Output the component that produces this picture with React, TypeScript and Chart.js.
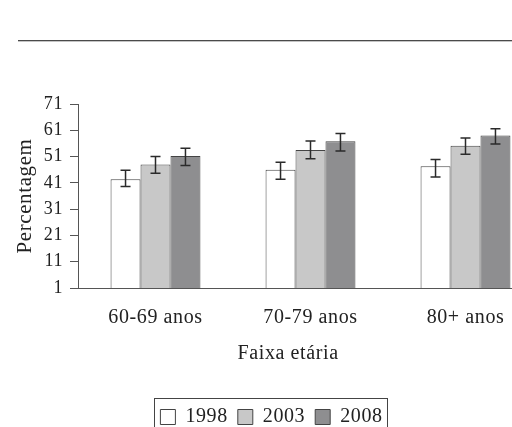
import React, { useEffect, useRef } from "react";
import { Chart, registerables } from "chart.js";

Chart.register(...registerables);

const categories = ["60-69 anos", "70-79 anos", "80+ anos"];
const seriesNames = ["1998", "2003", "2008"];
const values1998 = [42.4, 46.0, 47.3];
const values2003 = [48.0, 53.5, 55.1];
const values2008 = [51.2, 56.8, 59.0];
const low1998 = [39.6, 42.4, 43.2];
const high1998 = [45.8, 48.8, 49.9];
const low2003 = [44.7, 50.2, 51.9];
const high2003 = [51.0, 56.9, 58.1];
const low2008 = [47.6, 53.1, 55.8];
const high2008 = [54.2, 59.8, 61.6];
const yTicks = [1, 11, 21, 31, 41, 51, 61, 71];
const xTitle = "Faixa etária";
const yTitle = "Percentagem";

const FONT = "'Liberation Serif', 'Times New Roman', serif";
const fills = ["#ffffff", "#c8c8c8", "#8e8e90"];
const lows = [low1998, low2003, low2008];
const highs = [high1998, high2003, high2008];
const seriesValues = [values1998, values2003, values2008];

const spacingPlugin = {
  id: "spacing",
  beforeUpdate(chart: any) {
    chart.ctx.letterSpacing = "0.6px";
  },
  beforeDraw(chart: any) {
    chart.ctx.letterSpacing = "0.6px";
  },
};

const errorBarPlugin = {
  id: "errorBars",
  afterDatasetsDraw(chart: any) {
    const ctx = chart.ctx;
    const y = chart.scales.y;
    ctx.save();
    ctx.strokeStyle = "#2a2a2a";
    ctx.lineWidth = 1.5;
    chart.data.datasets.forEach((_: any, i: number) => {
      const meta = chart.getDatasetMeta(i);
      meta.data.forEach((bar: any, j: number) => {
        const x = bar.x;
        const yl = y.getPixelForValue(lows[i][j]);
        const yh = y.getPixelForValue(highs[i][j]);
        ctx.beginPath();
        ctx.moveTo(x, yl);
        ctx.lineTo(x, yh);
        ctx.moveTo(x - 5, yl);
        ctx.lineTo(x + 5, yl);
        ctx.moveTo(x - 5, yh);
        ctx.lineTo(x + 5, yh);
        ctx.stroke();
      });
    });
    ctx.restore();
  },
};

const legendBoxPlugin = {
  id: "legendBox",
  afterDraw(chart: any) {
    const lg = chart.legend;
    if (!lg || !lg.legendHitBoxes || !lg.legendHitBoxes.length) return;
    const hb = lg.legendHitBoxes;
    let l = Infinity, r = -Infinity, t = Infinity, b = -Infinity;
    hb.forEach((h: any) => {
      l = Math.min(l, h.left);
      r = Math.max(r, h.left + h.width);
      t = Math.min(t, h.top);
      b = Math.max(b, h.top + h.height);
    });
    const ctx = chart.ctx;
    ctx.save();
    ctx.strokeStyle = "#444";
    ctx.lineWidth = 1;
    ctx.strokeRect(Math.round(l - 6) + 0.5, Math.round(t - 9) + 0.5, Math.round(r - l + 11), Math.round(b - t + 30));
    ctx.restore();
  },
};

export default function App() {
  const ref = useRef<HTMLCanvasElement>(null);
  useEffect(() => {
    if (!ref.current) return;
    const chart = new Chart(ref.current, {
      type: "bar",
      data: {
        labels: categories,
        datasets: seriesNames.map((name, i) => ({
          label: name,
          data: seriesValues[i],
          backgroundColor: fills[i],
          borderColor: "#444",
          borderWidth: 1,
          categoryPercentage: 0.58,
          barPercentage: 1,
        })),
      },
      options: {
        responsive: false,
        animation: false,
        layout: { padding: { top: 104, right: 17, bottom: 3, left: 0 } },
        plugins: {
          tooltip: { enabled: false },
          legend: {
            position: "bottom",
            labels: {
              boxWidth: 15,
              boxHeight: 15,
              padding: 10,
              color: "#222",
              font: { family: FONT, size: 20 },
            },
          },
        },
        scales: {
          x: {
            grid: { display: false, drawTicks: false },
            border: { color: "#555", width: 1 },
            ticks: { color: "#222", font: { family: FONT, size: 20 }, padding: 18 },
            title: {
              display: true,
              text: xTitle + "        ",
              color: "#222",
              font: { family: FONT, size: 20 },
              padding: { top: -6, bottom: 31 },
            },
          },
          y: {
            min: 1,
            max: 71,
            afterBuildTicks: (s: any) => {
              s.ticks = yTicks.map((v) => ({ value: v }));
            },
            afterFit: (s: any) => {
              s.width = 78;
            },
            grid: { drawOnChartArea: false, tickLength: 8, color: "#555" },
            border: { color: "#555", width: 1 },
            ticks: { color: "#222", font: { family: FONT, size: 18 }, padding: 7 },
            title: {
              display: true,
              text: yTitle,
              color: "#222",
              font: { family: FONT, size: 21 },
              padding: { top: 13, bottom: 0 },
            },
          },
        },
      },
      plugins: [spacingPlugin, errorBarPlugin, legendBoxPlugin],
    });
    return () => chart.destroy();
  }, []);
  return (
    <div style={{ position: "fixed", left: 0, top: 0, width: 512, height: 427, overflow: "hidden", background: "#fff" }}>
      <div
        style={{
          position: "absolute",
          left: 18,
          top: 40,
          width: 494,
          height: 0,
          borderTop: "1px solid #4a4a4a",
          borderBottom: "1px solid #c4c4c4",
        }}
      />
      <canvas ref={ref} width={560} height={440} style={{ position: "absolute", left: 0, top: 0 }} />
    </div>
  );
}
